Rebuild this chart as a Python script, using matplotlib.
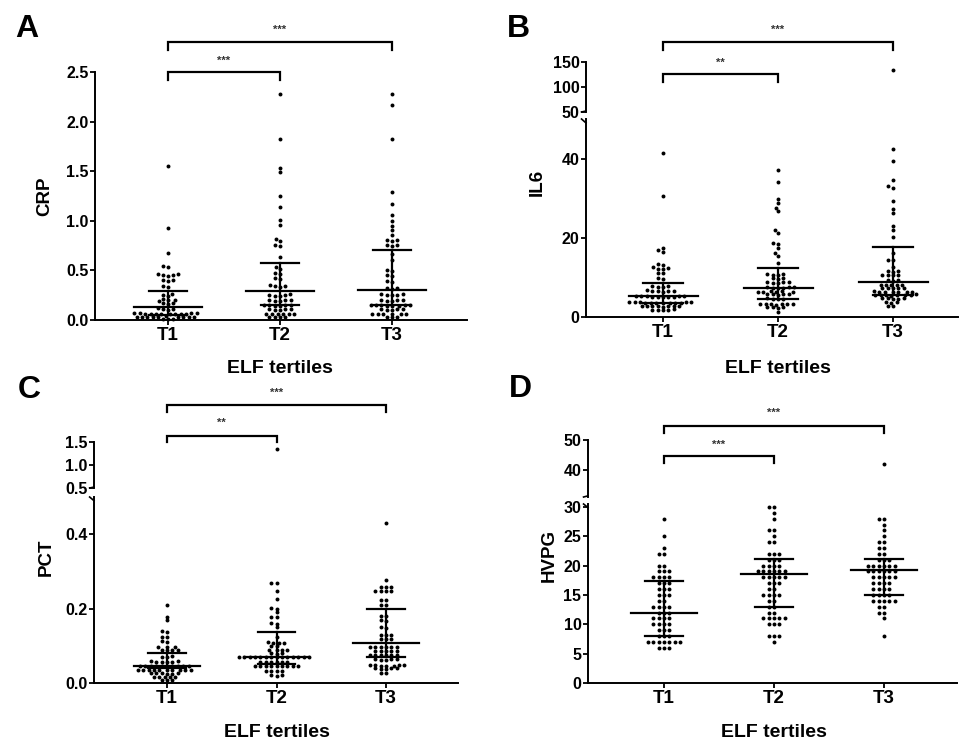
import numpy as np
import matplotlib
matplotlib.use("Agg")
import matplotlib.pyplot as plt
from matplotlib import transforms

plt.rcParams['font.family'] = ['Liberation Sans', 'DejaVu Sans']
plt.rcParams['font.weight'] = 'bold'

# ---------------- data ----------------
categories = ['T1', 'T2', 'T3']
xlabel_text = 'ELF tertiles'

crp_t1 = [1.55, 0.93, 0.68, 0.54, 0.53, 0.46, 0.46, 0.45, 0.45, 0.44, 0.40, 0.40, 0.39, 0.34, 0.33,
          0.26, 0.25, 0.24, 0.21, 0.20, 0.20, 0.19, 0.17, 0.17, 0.16, 0.12, 0.11, 0.11, 0.10, 0.07,
          0.07, 0.07, 0.07, 0.065, 0.065, 0.065, 0.06, 0.06, 0.06, 0.06, 0.06, 0.04, 0.035, 0.035,
          0.035, 0.03, 0.03, 0.03, 0.03, 0.03, 0.03, 0.01, 0.01, 0.01]
crp_t2 = [2.28, 1.82, 1.53, 1.49, 1.25, 1.14, 1.01, 0.96, 0.82, 0.80, 0.76, 0.75, 0.64, 0.53, 0.51,
          0.47, 0.46, 0.42, 0.41, 0.35, 0.34, 0.34, 0.33, 0.26, 0.25, 0.25, 0.24, 0.24, 0.20, 0.20,
          0.20, 0.19, 0.19, 0.15, 0.15, 0.15, 0.15, 0.14, 0.14, 0.11, 0.11, 0.11, 0.10, 0.10, 0.065,
          0.065, 0.06, 0.06, 0.06, 0.06, 0.035, 0.035, 0.03, 0.03]
crp_t3 = [2.28, 2.17, 1.82, 1.29, 1.17, 1.06, 1.00, 0.95, 0.91, 0.86, 0.81, 0.81, 0.80, 0.76, 0.76,
          0.75, 0.67, 0.60, 0.50, 0.49, 0.45, 0.44, 0.39, 0.38, 0.32, 0.32, 0.31, 0.26, 0.26, 0.25,
          0.25, 0.25, 0.20, 0.20, 0.20, 0.19, 0.19, 0.15, 0.15, 0.15, 0.15, 0.15, 0.14, 0.14, 0.14,
          0.11, 0.11, 0.11, 0.10, 0.10, 0.065, 0.065, 0.06, 0.06, 0.06, 0.06, 0.035, 0.035, 0.03]
crp_median = [0.13, 0.29, 0.30]
crp_q1 = [0.05, 0.155, 0.155]
crp_q3 = [0.29, 0.57, 0.705]

il6_t1 = [41.5, 30.5, 17.5, 16.8, 16.5, 13.3, 13.2, 12.5, 12.3, 12.2, 12.0, 11.2, 11.0, 9.9, 9.7,
          7.9, 7.8, 7.7, 7.6, 6.7, 6.6, 6.6, 6.5, 6.5, 6.4, 5.3, 5.3, 5.2, 5.2, 5.2, 5.1, 5.1, 5.0,
          5.0, 5.0, 3.8, 3.8, 3.7, 3.7, 3.7, 3.6, 3.6, 3.6, 3.5, 3.5, 3.5, 3.5, 2.9, 2.8, 2.8, 2.8,
          2.7, 2.7, 2.7, 2.6, 1.9, 1.8, 1.8, 1.7, 1.7]
il6_t2 = [37.0, 34.0, 29.9, 28.8, 27.5, 26.7, 22.0, 21.3, 18.8, 18.5, 17.5, 16.1, 15.4, 13.6, 10.9,
          10.8, 10.7, 10.6, 9.9, 9.8, 9.7, 8.9, 8.8, 8.8, 8.7, 8.6, 7.6, 7.5, 7.5, 7.4, 7.3, 7.3, 6.5,
          6.5, 6.4, 6.4, 6.3, 6.3, 5.8, 5.8, 5.7, 5.7, 5.6, 4.7, 4.6, 4.6, 4.5, 3.4, 3.3, 3.3, 3.3,
          3.2, 3.2, 3.1, 2.5, 2.4, 2.4, 2.3, 1.3]
il6_t3 = [134, 42.3, 39.3, 34.7, 33.0, 32.6, 29.2, 27.3, 26.2, 22.9, 22.0, 20.3, 16.1, 14.5, 14.3,
          12.7, 11.6, 11.5, 11.4, 10.7, 10.6, 10.5, 10.5, 9.4, 9.3, 9.2, 8.2, 8.1, 8.1, 8.0, 8.0,
          7.4, 7.3, 7.3, 7.2, 7.2, 6.5, 6.4, 6.4, 6.4, 6.3, 6.3, 6.3, 5.7, 5.6, 5.6, 5.6, 5.5, 5.5,
          5.5, 5.4, 4.8, 4.7, 4.7, 4.6, 4.6, 3.8, 3.7, 3.6, 2.9, 2.8]
il6_median = [5.4, 7.4, 8.8]
il6_q1 = [3.5, 4.5, 5.6]
il6_q3 = [8.5, 12.3, 17.8]

pct_t1 = [0.209, 0.178, 0.169, 0.139, 0.137, 0.125, 0.123, 0.112, 0.110, 0.098, 0.097, 0.096, 0.090,
          0.090, 0.089, 0.088, 0.072, 0.071, 0.070, 0.058, 0.058, 0.057, 0.057, 0.056, 0.056, 0.047,
          0.047, 0.046, 0.046, 0.046, 0.046, 0.045, 0.045, 0.045, 0.045, 0.036, 0.036, 0.035, 0.035,
          0.035, 0.035, 0.034, 0.034, 0.034, 0.034, 0.027, 0.026, 0.026, 0.026, 0.025, 0.025, 0.017,
          0.017, 0.017, 0.016, 0.016, 0.008, 0.008, 0.008]
pct_t2 = [1.35, 0.269, 0.268, 0.248, 0.227, 0.201, 0.200, 0.191, 0.178, 0.177, 0.160, 0.159, 0.150,
          0.124, 0.109, 0.108, 0.108, 0.107, 0.100, 0.099, 0.089, 0.089, 0.088, 0.088, 0.080, 0.080,
          0.079, 0.070, 0.070, 0.070, 0.070, 0.070, 0.070, 0.070, 0.070, 0.070, 0.070, 0.070, 0.070,
          0.070, 0.070, 0.057, 0.057, 0.057, 0.056, 0.056, 0.056, 0.047, 0.047, 0.047, 0.047, 0.047,
          0.046, 0.046, 0.046, 0.046, 0.032, 0.032, 0.031, 0.031, 0.021, 0.021, 0.020]
pct_t3 = [0.429, 0.278, 0.259, 0.259, 0.259, 0.248, 0.248, 0.248, 0.248, 0.223, 0.222, 0.211, 0.210,
          0.180, 0.179, 0.169, 0.168, 0.150, 0.149, 0.129, 0.129, 0.128, 0.118, 0.118, 0.117, 0.097,
          0.097, 0.097, 0.096, 0.096, 0.096, 0.087, 0.087, 0.087, 0.086, 0.086, 0.075, 0.075, 0.075,
          0.074, 0.074, 0.074, 0.064, 0.064, 0.064, 0.063, 0.063, 0.048, 0.048, 0.048, 0.048, 0.047,
          0.047, 0.047, 0.039, 0.039, 0.039, 0.038, 0.038, 0.028, 0.028]
pct_median = [0.046, 0.07, 0.108]
pct_q1 = [0.039, 0.05, 0.07]
pct_q3 = [0.081, 0.137, 0.2]

hvpg_t1 = [28, 25, 23, 22, 22, 20, 20, 19, 19, 19, 18, 18, 18, 18, 17, 17, 17, 16, 16, 16, 15, 15,
           15, 14, 14, 13, 13, 13, 13, 12, 12, 12, 11, 11, 11, 11, 10, 10, 10, 10, 9, 9, 9, 8, 8, 8,
           7, 7, 7, 7, 7, 7, 7, 6, 6, 6]
hvpg_t2 = [30, 30, 29, 28, 26, 26, 25, 24, 24, 22, 22, 22, 21, 21, 21, 20, 20, 20, 20, 19, 19, 19,
           19, 19, 19, 18, 18, 18, 18, 18, 17, 17, 17, 16, 16, 15, 15, 15, 15, 14, 14, 13, 13, 12, 12,
           11, 11, 11, 11, 11, 10, 10, 10, 8, 8, 8, 7]
hvpg_t3 = [42, 28, 28, 27, 26, 25, 24, 24, 23, 23, 22, 22, 21, 21, 21, 20, 20, 20, 20, 20, 20, 19,
           19, 19, 19, 19, 19, 18, 18, 18, 18, 18, 17, 17, 17, 17, 16, 16, 16, 16, 15, 15, 15, 15, 14,
           14, 14, 14, 14, 13, 13, 12, 12, 11, 8]
hvpg_median = [12, 18.5, 19.2]
hvpg_q1 = [8, 13, 15]
hvpg_q3 = [17.3, 21.1, 21.1]

sig_t1_t2 = ['***', '**', '**', '***']
sig_t1_t3 = ['***', '***', '***', '***']

# ---------------- layout helpers ----------------
W, H = 960, 740
fig = plt.figure(figsize=(W / 100, H / 100), dpi=100)


def rect(l, t, r, b):
    return [l / W, 1 - b / H, (r - l) / W, (b - t) / H]


def fy(y):
    return 1 - y / H


def style_axis(ax, bottom=True):
    for s in ['top', 'right']:
        ax.spines[s].set_visible(False)
    ax.spines['left'].set_linewidth(1.4)
    ax.spines['bottom'].set_linewidth(1.4)
    if not bottom:
        ax.spines['bottom'].set_visible(False)
        ax.tick_params(axis='x', bottom=False, labelbottom=False)
    ax.tick_params(axis='y', length=3.5, width=1.3, labelsize=11.5, pad=1.2)
    ax.tick_params(axis='x', length=3.5, width=1.3, labelsize=13.5, pad=1.5)
    ax.patch.set_alpha(0)


def swarm_x(ax, xc, vals, dx=5.4, dy=3.3):
    vals = np.asarray(vals, dtype=float)
    if len(vals) == 0:
        return np.array([])
    pts = ax.transData.transform(np.column_stack([np.full(len(vals), xc), vals]))
    ys = pts[:, 1]
    x0 = pts[0, 0]
    order = np.argsort(ys)
    placed = []
    offs = np.zeros(len(vals))
    for i in order:
        y = ys[i]
        ints = []
        for px, py in placed:
            r = abs(py - y) / dy
            if r < 1:
                w = dx * np.sqrt(1 - r * r)
                ints.append((px - w, px + w))
        cands = [0.0] + [a for a, b in ints] + [b for a, b in ints]
        cands.sort(key=lambda c: (abs(c), c))
        chosen = 0.0
        for c in cands:
            if all(not (a + 1e-6 < c < b - 1e-6) for a, b in ints):
                chosen = c
                break
        offs[i] = chosen
        placed.append((chosen, y))
    back = ax.transData.inverted().transform(np.column_stack([x0 + offs, ys]))
    return back[:, 0]


def panel(letter, letter_xy, ylabel, ylabel_xy, xlabel_y, left, right, x_t1, x_t3,
          lower, upper, groups, med, q1, q3, br, sig12, sig13):
    s = (x_t3 - x_t1) / 2.0
    xlim = (1 - (x_t1 - left) / s, 3 + (right - x_t3) / s)
    lb, lt, lylim, lticks, lfmt = lower
    ax = fig.add_axes(rect(left, lt, right, lb))
    ax.set_xlim(*xlim)
    ax.set_ylim(*lylim)
    ax.set_yticks(lticks)
    ax.set_yticklabels([lfmt.format(t) for t in lticks])
    ax.set_xticks([1, 2, 3])
    ax.set_xticklabels(categories)
    style_axis(ax)
    axu = None
    if upper is not None:
        ub, ut, uylim, uticks, ufmt = upper
        axu = fig.add_axes(rect(left, ut, right, ub))
        axu.set_xlim(*xlim)
        axu.set_ylim(*uylim)
        axu.set_yticks(uticks)
        axu.set_yticklabels([ufmt.format(t) for t in uticks])
        style_axis(axu, bottom=False)
        # break marks
        for a, yv in [(ax, 1.0), (axu, 0.0)]:
            a.plot([-0.012, 0.0], [yv, yv + (0.02 if yv == 0 else -0.02)],
                   transform=a.transAxes, color='black', lw=1.2, clip_on=False)
    for i, vals in enumerate(groups):
        xc = i + 1
        vals = np.asarray(vals, dtype=float)
        lo = vals[vals <= lylim[1]]
        xs = swarm_x(ax, xc, lo)
        ax.scatter(xs, lo, s=8, color='black', linewidths=0, zorder=3, clip_on=False)
        if axu is not None:
            hi = vals[vals > lylim[1]]
            if len(hi):
                xh = swarm_x(axu, xc, hi)
                axu.scatter(xh, hi, s=8, color='black', linewidths=0, zorder=3, clip_on=False)
        ax.plot([xc - 0.3, xc + 0.3], [med[i], med[i]], color='black', lw=1.6, zorder=4)
        ax.plot([xc - 0.17, xc + 0.17], [q1[i], q1[i]], color='black', lw=1.6, zorder=4)
        ax.plot([xc - 0.17, xc + 0.17], [q3[i], q3[i]], color='black', lw=1.6, zorder=4)
        ax.plot([xc, xc], [q1[i], q3[i]], color='black', lw=1.6, zorder=4)
    # significance brackets
    tr = transforms.blended_transform_factory(ax.transData, fig.transFigure)
    (y13, e13, s13), (y12, e12, s12) = br
    for (xa, xb, yb, ye, ys, txt) in [(1, 3, y13, e13, s13, sig13), (1, 2, y12, e12, s12, sig12)]:
        ax.plot([xa, xa, xb, xb], [fy(ye), fy(yb), fy(yb), fy(ye)], transform=tr,
                color='black', lw=1.6, clip_on=False, solid_joinstyle='miter')
        ax.text((xa + xb) / 2, fy(ys), txt, transform=tr, ha='center', va='center',
                fontsize=8, color='#333333', fontweight='bold')
    fig.text(letter_xy[0] / W, fy(letter_xy[1]), letter, fontsize=23, fontweight='bold',
             ha='center', va='baseline')
    fig.text(ylabel_xy[0] / W, fy(ylabel_xy[1]), ylabel, fontsize=13.5, fontweight='bold',
             rotation=90, ha='center', va='center')
    fig.text(((x_t1 + x_t3) / 2) / W, fy(xlabel_y), xlabel_text, fontsize=14,
             fontweight='bold', ha='center', va='baseline')


# Panel A
panel('A', (27, 37), 'CRP', (45, 196), 373, 95, 467, 168, 392,
      (320, 72, (0, 2.5), [0, 0.5, 1.0, 1.5, 2.0, 2.5], '{:.1f}'), None,
      [crp_t1, crp_t2, crp_t3], crp_median, crp_q1, crp_q3,
      [(42, 50, 30), (72, 80, 61)], sig_t1_t2[0], sig_t1_t3[0])

# Panel B
panel('B', (518, 37), 'IL6', (537, 182), 373, 586, 958, 663, 893,
      (317, 119, (0, 50), [0, 20, 40], '{:.0f}'), (112, 62, (50, 150), [50, 100, 150], '{:.0f}'),
      [il6_t1, il6_t2, il6_t3], il6_median, il6_q1, il6_q3,
      [(42, 50, 30), (74, 82, 63)], sig_t1_t2[1], sig_t1_t3[1])

# Panel C
panel('C', (29, 398), 'PCT', (46, 557), 737, 94, 458, 167, 386,
      (683, 497, (0, 0.5), [0.0, 0.2, 0.4], '{:.1f}'), (488, 442, (0.5, 1.5), [0.5, 1.0, 1.5], '{:.1f}'),
      [pct_t1, pct_t2, pct_t3], pct_median, pct_q1, pct_q3,
      [(405, 412, 393), (436, 442, 423)], sig_t1_t2[2], sig_t1_t3[2])

# Panel D
panel('D', (520, 397), 'HVPG', (549, 555), 737, 588, 957, 664, 884,
      (683, 504, (0, 30.5), [0, 5, 10, 15, 20, 25, 30], '{:.0f}'), (497, 440, (31, 50), [40, 50], '{:.0f}'),
      [hvpg_t1, hvpg_t2, hvpg_t3], hvpg_median, hvpg_q1, hvpg_q3,
      [(426, 433, 413), (456, 463, 445)], sig_t1_t2[3], sig_t1_t3[3])

fig.savefig('out.png', dpi=100, facecolor='white')
